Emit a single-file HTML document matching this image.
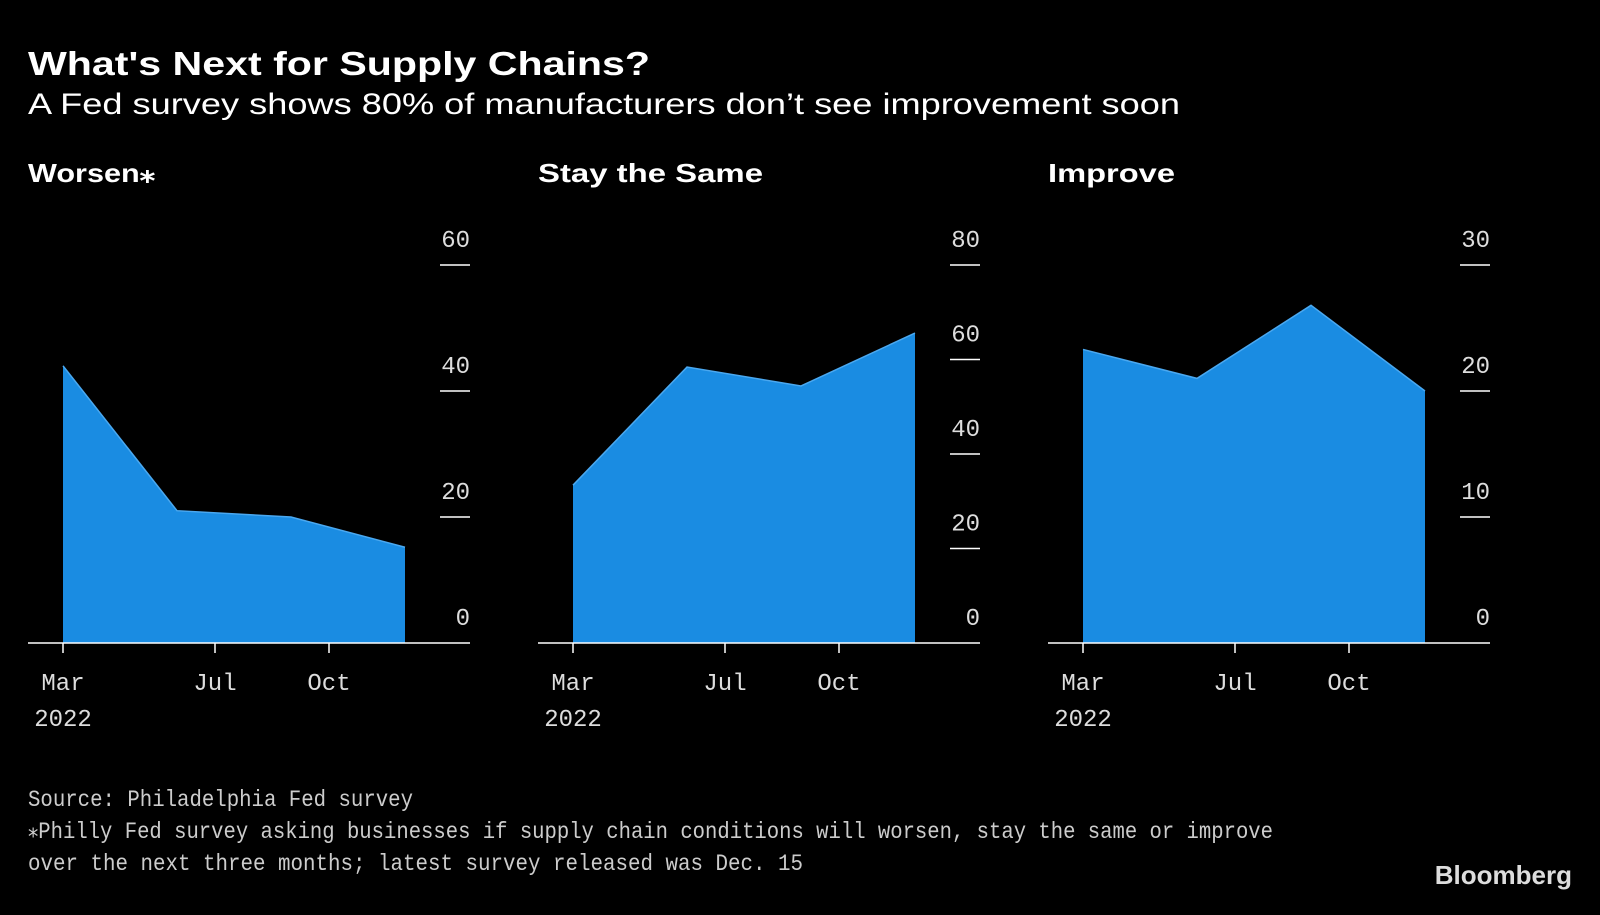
<!DOCTYPE html>
<html><head><meta charset="utf-8"><style>
body{margin:0;background:#000;width:1600px;height:910px;overflow:hidden;font-family:"Liberation Sans",sans-serif;color:#fff}
</style></head><body>
<svg width="1600" height="910" xmlns="http://www.w3.org/2000/svg" id="svg">
<text x="28" y="75" font-size="33" font-weight="bold" fill="#fff" textLength="622" lengthAdjust="spacingAndGlyphs">What's Next for Supply Chains?</text>
<text x="28" y="114" font-size="30" fill="#fff" textLength="1152" lengthAdjust="spacingAndGlyphs">A Fed survey shows 80% of manufacturers don’t see improvement soon</text>
<g id="panels"></g>
<text x="28" y="806" font-size="23" fill="#ccc" font-family="Liberation Mono, monospace" textLength="385" lengthAdjust="spacingAndGlyphs">Source: Philadelphia Fed survey</text>
<text x="28" y="838" font-size="23" fill="#ccc" font-family="Liberation Mono, monospace" textLength="1245" lengthAdjust="spacingAndGlyphs">⁎Philly Fed survey asking businesses if supply chain conditions will worsen, stay the same or improve</text>
<text x="28" y="870" font-size="23" fill="#ccc" font-family="Liberation Mono, monospace" textLength="775" lengthAdjust="spacingAndGlyphs">over the next three months; latest survey released was Dec. 15</text>
<text x="1572" y="884" font-size="26" font-weight="bold" fill="#ddd" text-anchor="end">Bloomberg</text>
</svg>
<script>
const titles=["Worsen⁎","Stay the Same","Improve"];
const titleWidths=[127,225,127];
const months=[0,3,6,9];
const worsen=[44,21,20,15.2];
const stay=[33.4,58.4,54.4,65.6];
const improve=[23.3,21,26.8,20];
const ticksW=[0,20,40,60];
const ticksS=[0,20,40,60,80];
const ticksI=[0,10,20,30];
const xLabels=[["Mar","2022"],["Jul"],["Oct"]];
const xLabelMonths=[0,4,7];
const series=[worsen,stay,improve];
const ticks=[ticksW,ticksS,ticksI];
const NS="http://www.w3.org/2000/svg";
const g=document.getElementById('panels');
function mk(t,a,p){const e=document.createElementNS(NS,t);for(const k in a)e.setAttribute(k,a[k]);p.appendChild(e);return e;}
for(let p=0;p<3;p++){
  const off=p*510;
  const tk=ticks[p];const max=tk[tk.length-1];
  const x=m=>off+63+m*38;
  const y=v=>643-v/max*378;
  const t=mk('text',{x:off+28,y:182,'font-size':26,'font-weight':'bold',fill:'#fff',textLength:titleWidths[p],lengthAdjust:'spacingAndGlyphs'},g);t.textContent=titles[p];
  
  
  const d=series[p];
  let path=`M${x(months[0])},643`;
  d.forEach((v,i)=>path+=` L${x(months[i])},${y(v)}`);
  path+=` L${x(months[d.length-1])},643 Z`;
  const a=mk('path',{d:path,fill:'#1a8ce2'},g);
  
  
  let l='';d.forEach((v,i)=>l+=(i?' L':'M')+x(months[i])+','+y(v));
  const ln=mk('path',{d:l,fill:'none',stroke:'#4aa8f0','stroke-width':1.5},g);
  
  
  tk.forEach(v=>{
    if(v>0){const tl=mk('line',{x1:off+440,x2:off+470,y1:y(v),y2:y(v),stroke:'#fff','stroke-width':1.5},g);
    
    }
    const tt=mk('text',{x:off+470,y:y(v)-18,'font-size':24,fill:'#ddd','text-anchor':'end','font-family':'Liberation Mono, monospace'},g);tt.textContent=v;
    
    
  });
  const ax=mk('line',{x1:off+28,x2:off+470,y1:643,y2:643,stroke:'#fff','stroke-width':1.5},g);
  
  
  xLabelMonths.forEach((m,i)=>{
    const tl=mk('line',{x1:x(m),x2:x(m),y1:643,y2:653,stroke:'#fff','stroke-width':1.5},g);
    
    
    xLabels[i].forEach((s,j)=>{
      const tx=mk('text',{x:x(m),y:690+j*36,'font-size':24,fill:'#ddd','text-anchor':'middle','font-family':'Liberation Mono, monospace'},g);tx.textContent=s;
      
      
    });
  });
}
</script>
</body></html>
